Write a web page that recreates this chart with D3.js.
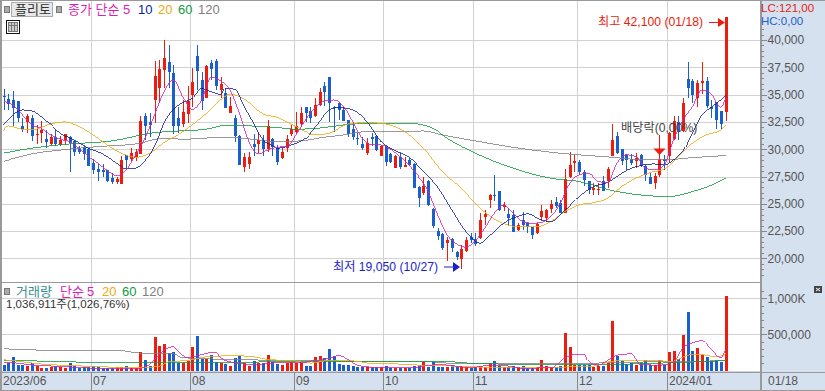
<!DOCTYPE html>
<html>
<head>
<meta charset="utf-8">
<script src="https://d3js.org/d3.v7.min.js"></script>
<style>
  html, body { margin:0; padding:0; background:#fff; overflow:hidden; }
  svg { display:block; font-family:'Liberation Sans','Noto Sans CJK KR',sans-serif; }
  .axis path.domain { display:none; }
  .axis text { fill:#555; font-size:12px; font-family:'Liberation Sans',sans-serif; }
  .axis line { stroke:#888; shape-rendering:crispEdges; }
  .grid path.domain { display:none; }
  .grid line { stroke:#d2d2d2; shape-rendering:crispEdges; }
  .grid text { display:none; }
  .ma { fill:none; stroke-width:0.8; shape-rendering:crispEdges; }
</style>
</head>
<body>
<svg id="chart" width="825" height="391"></svg>
<script>

// candles, one entry per trading day 2023/06 -> 2024/01/18
var open = [34900,34600,34500,34400,32150,32450,32900,31300,31500,30950,
  30500,31150,30350,30800,31150,30750,30100,30200,30050,28700,
  28200,28100,28050,27400,27000,26850,29450,29100,29250,29550,
  33000,32450,34500,35650,37250,38000,36950,32900,32350,33250,
  34950,38500,36350,34700,37900,38100,35400,35150,33350,32850,
  31200,28400,28600,30500,30500,30850,30050,30950,30100,29150,
  30100,31350,31550,32300,33850,33500,33050,34050,35800,36600,
  33850,34250,33600,32700,31850,31050,30500,29650,31100,31200,
  29400,30250,29550,28300,29250,28400,29000,28650,26550,25950,
  27050,24550,22500,22200,21450,21750,20550,19950,20650,22000,
  21800,21850,23750,25350,25800,26200,24750,24100,24000,22600,
  23550,23250,22850,22300,23800,23700,24500,25150,25050,24150,
  27450,28700,28800,27950,27050,26300,26300,27050,27050,29400,
  31200,30050,29500,29100,28950,29450,28500,27500,26900,27650,
  29100,29350,30950,32500,31650,36450,36250,34650,36050,36250,
  33900,34350,33500,33450]
var close = [34800,34150,33800,32900,31850,33000,31250,31350,31750,30650,
  31150,30500,30850,31350,30550,29700,29750,29550,28500,28100,
  27950,27950,27050,27000,27300,29000,29000,29650,29700,32600,
  32150,32200,36700,37350,38350,37050,32150,32150,33400,34400,
  36150,37200,34450,37600,37350,35750,36000,33800,33950,31250,
  28550,29300,29300,30200,30800,30050,32150,30200,28850,29700,
  30900,31850,32150,33350,33350,32900,34050,35250,35250,34200,
  33800,33600,32600,31350,31100,30900,30150,30600,30950,29950,
  30300,28850,28850,29400,28350,28550,28550,26450,25500,26600,
  24850,23000,22050,20950,21700,20950,20100,20850,21650,21700,
  21300,23550,24100,25800,25750,24400,24850,23700,22450,23050,
  23050,22850,22100,23150,24300,24450,25000,24800,24200,27250,
  28550,28950,27950,27200,26300,26450,26400,26200,28200,30850,
  29650,28950,29000,28700,29150,28500,27600,26850,27550,29100,
  28950,31450,32600,31600,34250,35650,34950,36100,36250,33950,
  33650,32700,32300,42100]
var high = [35500,35050,35350,34450,32850,33250,33100,32200,32600,31750,
  31400,31750,31200,31400,31250,30850,30250,30250,30150,29100,
  28600,28650,28100,27800,27500,29350,29500,30100,30000,33000,
  33350,33300,38100,38150,40000,39550,37750,33900,34500,35750,
  37400,39550,37100,37700,38150,38250,36650,35600,34750,33100,
  31300,29650,29700,31400,31600,31300,32700,31000,30400,30100,
  31300,32200,33450,33900,33900,33900,34700,35600,36150,36650,
  33950,34350,33900,32700,32500,31450,31150,31050,31450,31300,
  30400,30300,29650,29500,29650,29300,29150,28700,26600,27450,
  27150,24600,22750,22300,21950,21850,20650,21250,22000,22300,
  22350,24200,24400,25900,27650,26200,25200,24600,24450,23250,
  24250,23300,22900,23250,24900,24500,25350,25650,25350,28200,
  29700,29500,29000,28050,27100,26950,26900,27550,28400,32300,
  31600,30050,29550,29550,29650,29550,28550,27850,27800,31300,
  29500,31600,33050,33000,34650,38000,36400,36350,38000,36600,
  34550,34350,33500,42100]
var low = [33550,33600,32150,32450,31550,31500,30750,30500,30600,30100,
  30250,30300,30300,30400,27950,29400,29550,29000,28450,27750,
  27050,27450,27000,26850,26850,26850,28250,28950,28950,29550,
  30850,31150,32400,34200,35650,35600,31350,31450,32000,32400,
  33850,35400,33600,34650,36350,35400,34650,33750,33300,30700,
  28550,27950,28150,29350,29650,29350,29700,29350,28550,29100,
  29700,31200,31400,32050,32450,32400,32950,34000,34000,32450,
  31600,32700,32550,31150,30800,30400,29950,29500,30250,29800,
  29400,28450,28700,28250,28200,28350,28450,26450,24750,25800,
  24800,22750,21700,20800,19800,20550,19850,19050,20600,21450,
  21150,21800,23050,24600,25300,24300,24300,23000,22450,22550,
  22600,22350,21800,22250,23400,23300,24150,24600,24150,24150,
  27400,27950,27650,26600,25900,25800,25800,26150,26450,29400,
  29550,28550,28100,28550,28250,28400,27050,26850,26350,27500,
  28100,28700,30850,30850,31600,34650,34200,33850,35050,33750,
  32900,31850,31850,32600]
// volume in thousands of shares
var volume = [83,97,181,74,74,69,106,65,37,37,
  46,60,46,37,97,65,32,51,51,60,
  51,37,37,37,42,42,56,32,37,255,
  139,60,458,338,361,241,250,102,102,130,
  319,472,162,162,208,120,97,93,69,167,
  194,97,69,130,97,106,208,120,88,83,
  102,116,102,116,69,69,181,194,167,292,
  204,88,74,79,56,42,46,46,42,42,
  46,60,32,37,32,32,32,69,83,111,
  46,111,46,46,46,83,42,65,42,37,
  42,69,46,97,125,69,46,46,65,42,
  69,37,37,46,139,56,46,42,60,514,
  319,83,74,74,74,42,60,60,106,681,
  194,125,93,102,74,116,144,74,74,139,
  74,250,264,157,486,806,264,306,208,181,
  130,130,116,1037]

// moving averages, day index + value
var ma5Day = [0,2,4,6,8,10,12,14,16,18,20,22,24,26,28,30,32,34,36,38,40,42,44,46,48,50,52,54,56,58,60,62,64,66,68,70,72,74,76,78,80,82,84,86,88,90,92,94,96,98,100,102,104,106,108,110,112,114,116,118,120,122,124,126,128,130,132,134,136,138,140,142,144,146,148,150,152,153]
var ma5 = [34360,34050,33140,32220,31920,31310,30910,30700,30090,29325,28715,28050,27560,28105,29480,31000,33140,35270,36340,34815,33655,34510,36590,36250,35425,33290,30700,29570,29935,30180,30240,31310,32680,33750,34420,34510,33960,32530,31000,30390,30390,29995,29325,28560,27500,26120,23990,22160,21330,21030,21640,22770,24140,24900,24140,23380,23220,23280,23835,25055,26885,27650,27800,27040,26950,28720,29480,29325,28260,28105,28560,30910,32680,33900,35425,35060,33840,34660]
var ma10Day = [0,2,4,6,9,12,15,18,21,24,26,28,30,32,34,36,38,40,42,44,46,47,49,51,53,55,57,58,61,64,67,69,71,74,77,80,83,86,89,92,95,98,101,103,106,109,111,114,116,119,122,125,128,130,132,135,138,140,142,144,146,148,150,152,153]
var ma10 = [32220,33140,33600,33500,32620,31460,30850,30090,29570,28720,28200,28260,28960,30240,32375,33655,34265,34660,35550,35270,35030,35580,35490,33900,32375,30850,30330,30090,30390,31000,32530,33600,33810,33600,32530,30700,29870,29260,27950,26520,24450,22460,21400,22070,23220,23840,24080,23530,23380,24400,25670,26580,26950,27500,28050,28500,28650,28560,29020,29870,31460,33140,33840,34510,34880]
var ma20Day = [0,1,4,6,10,13,16,19,22,25,28,31,34,37,40,43,46,48,51,55,58,62,66,69,73,77,81,85,89,93,97,101,105,109,113,116,119,122,125,128,131,134,137,140,143,146,149,152,153]
var ma20 = [31700,32130,31830,31760,32310,32500,32070,31310,30390,29630,29260,29630,30610,31310,32220,33290,34510,35030,34600,33230,32920,32070,31310,31460,32310,32440,32310,31610,30090,27950,26430,24600,23380,22920,22920,23380,24290,24900,25100,25510,26580,27340,27860,28170,29325,30550,31310,31760,32220]
var ma60Day = [0,6,13,23,32,43,47,58,62,68,72,79,86,91,94,100,107,116,122,129,137,141,146,151,153]
var ma60 = [29660,30090,30450,30760,31520,31830,32190,31980,31830,31980,32220,32370,32370,31920,31000,29630,28410,27340,27040,26210,25730,25660,26120,26890,27340]
var ma120Day = [0,6,13,20,28,34,38,47,52,58,63,68,72,76,82,89,93,100,107,116,122,129,136,140,146,153]
var ma120 = [28900,29570,29965,30240,30480,31000,30910,31100,30940,30700,30760,31100,31300,31580,31610,31670,31300,30760,30240,29720,29480,29260,29020,29020,29230,29420]

var vma5Day = [0,2,6,11,17,28,30,32,33,36,37,39,42,45,46,49,53,58,63,65,69,71,73,75,78,86,89,92,96,99,103,106,110,116,119,121,123,124,126,128,130,133,135,139,142,144,146,148,150,152,153]
var vma5 = [106,106,74,60,37,23,46,153,222,329,269,176,222,255,176,106,83,106,106,130,167,208,153,74,46,37,60,83,60,37,74,69,32,37,176,218,218,130,74,139,213,231,83,74,120,315,384,412,292,176,292]
var vma20Day = [0,4,9,12,19,29,33,35,39,43,49,52,56,58,61,65,69,75,77,80,86,92,103,116,125,129,134,139,141,146,148,150,152,153]
var vma20 = [148,120,83,74,56,37,60,120,139,190,204,199,153,144,139,102,139,130,102,102,79,69,46,46,60,130,139,139,120,222,222,199,199,236]
var vma60Day = [0,4,9,23,35,58,65,75,92,100,107,116,130,134,144,153]
var vma60 = [144,134,130,106,106,120,120,130,130,97,88,83,79,93,111,139]
var vma120Day = [0,8,24,29,33,36,38,42,45,49,58,91,94,100,107,116,125,134,153]
var vma120 = [301,282,282,241,241,231,176,167,157,153,139,120,102,97,102,93,102,116,134]

var priceTicks = [20000,22500,25000,27500,30000,32500,35000,37500,40000]
var priceMinor = d3.range(18500,43001,500)
var volumeTicks = [500,1000]
var volumeMinor = d3.range(100,1101,100)
var monthDay = [19,40,62,81,100,122,141]
var monthLabel = ['07','08','09','10','11','12','2024/01']

var RED = '#ec1c0e', BLUE = '#1a5fcc', MAGENTA = '#dc1eb4', NAVY = '#0a1e9c', ORANGE = '#f0aa0a', GREEN = '#0f9b3c', GREY = '#808080'

var svg = d3.select('#chart')
var x = d3.scaleLinear().domain([0,153]).range([3.5,725.5])
var y = d3.scaleLinear().domain([20000,40000]).range([258.4,40])
var yv = d3.scaleLinear().domain([0,1000]).range([370.5,298.3])

var plotLeft = 1, plotRight = 760, priceBottom = 282, volBottom = 372

// side panel + date strip
svg.append('rect').attr('x',plotRight).attr('y',0).attr('width',65).attr('height',391).attr('fill','#d6e1ef')
svg.append('rect').attr('x',0).attr('y',volBottom).attr('width',825).attr('height',19).attr('fill','#d6e1ef')

// grid
function hgrid(scale,ticks){
  svg.append('g').attr('class','grid').attr('transform','translate('+plotLeft+',0)')
    .call(d3.axisRight(scale).tickValues(ticks).tickSize(plotRight-plotLeft).tickFormat(''))
}
hgrid(y,priceTicks)
hgrid(yv,[0,500,1000])

var monthX = d3.scaleLinear().domain(x.domain()).range(x.range())
svg.append('g').attr('class','grid')
  .call(d3.axisBottom(monthX).tickValues(monthDay.map(d=>d-0.5)).tickSize(volBottom).tickFormat(''))

// volume bars
svg.append('g').selectAll('rect').data(volume).enter().append('rect')
  .attr('x',(d,i)=>Math.round(x(i))-1)
  .attr('width',3)
  .attr('y',d=>Math.round(yv(d)))
  .attr('height',d=>371-Math.round(yv(d)))
  .attr('fill',(d,i)=>close[i]>=open[i]?RED:BLUE)
  .attr('shape-rendering','crispEdges')

// candles
var candle = svg.append('g').attr('shape-rendering','crispEdges')
candle.selectAll('line').data(high).enter().append('line')
  .attr('x1',(d,i)=>Math.round(x(i))+0.5).attr('x2',(d,i)=>Math.round(x(i))+0.5)
  .attr('y1',d=>y(d))
  .attr('y2',(d,i)=>y(low[i]))
  .attr('stroke',(d,i)=>close[i]>=open[i]?RED:BLUE)
candle.selectAll('rect').data(high).enter().append('rect')
  .attr('x',(d,i)=>Math.round(x(i))-1)
  .attr('width',3)
  .attr('y',(d,i)=>Math.round(y(Math.max(open[i],close[i]))))
  .attr('height',(d,i)=>Math.max(1,Math.round(y(Math.min(open[i],close[i])))-Math.round(y(Math.max(open[i],close[i])))))
  .attr('fill',(d,i)=>close[i]>=open[i]?RED:BLUE)

// moving average lines
function drawMa(days,vals,color,scale){
  var line = d3.line().x((d,i)=>x(days[i])).y(d=>scale(d)).curve(d3.curveMonotoneX)
  svg.append('path').attr('class','ma').attr('d',line(vals)).attr('stroke',color)
}
drawMa(ma120Day,ma120,GREY,y)
drawMa(ma60Day,ma60,GREEN,y)
drawMa(ma20Day,ma20,ORANGE,y)
drawMa(ma10Day,ma10,NAVY,y)
drawMa(ma5Day,ma5,MAGENTA,y)
drawMa(vma120Day,vma120,GREY,yv)
drawMa(vma60Day,vma60,GREEN,yv)
drawMa(vma20Day,vma20,ORANGE,yv)
drawMa(vma5Day,vma5,MAGENTA,yv)

// panel borders
function border(x1,y1,x2,y2,w){
  svg.append('line').attr('x1',x1).attr('y1',y1).attr('x2',x2).attr('y2',y2)
    .attr('stroke','#999').attr('stroke-width',w||1).attr('shape-rendering','crispEdges')
}
border(0,0.5,825,0.5)
border(0.5,0,0.5,391,2)
border(0,priceBottom+0.5,760,priceBottom+0.5)
border(0,volBottom+0.5,825,volBottom+0.5)
border(0,390.5,825,390.5)
border(plotRight+0.5,0,plotRight+0.5,391,2)

// right axes
svg.append('g').attr('class','axis').attr('transform','translate(760.5,0)')
  .call(d3.axisRight(y).tickValues(priceMinor.filter(d=>y(d)>25&&y(d)<280)).tickSize(3).tickFormat(''))
svg.append('g').attr('class','axis').attr('transform','translate(760.5,0)')
  .call(d3.axisRight(y).tickValues(priceTicks).tickSize(6).tickPadding(1).tickFormat(d3.format(',')))
svg.append('g').attr('class','axis').attr('transform','translate(760.5,0)')
  .call(d3.axisRight(yv).tickValues(volumeMinor).tickSize(3).tickFormat(''))
svg.append('g').attr('class','axis').attr('transform','translate(760.5,0)')
  .call(d3.axisRight(yv).tickValues(volumeTicks).tickSize(6).tickPadding(1).tickFormat(d=>d==1000?'1,000K':'500,000'))

// month labels + dark separators in the date strip
var dateAxis = svg.append('g').attr('class','axis').attr('transform','translate(0,'+(volBottom)+')')
  .call(d3.axisBottom(monthX).tickValues(monthDay.map(d=>d-0.5)).tickSize(18).tickFormat(''))
dateAxis.selectAll('line').attr('stroke','#999')
function label(px,py,str,color,size,anchor){
  return svg.append('text').attr('x',px).attr('y',py).attr('fill',color).attr('font-size',size||12)
    .attr('text-anchor',anchor||'start').text(str)
}
label(3,385,'2023/06','#555')
monthDay.forEach(function(d,i){ label(Math.round(x(d-0.5))+2,385,monthLabel[i],'#555') })
label(768,385,'01/18','#555')

// top legend
function square(px,py){
  svg.append('rect').attr('x',px+0.5).attr('y',py+0.5).attr('width',5).attr('height',6)
    .attr('fill','#aaa').attr('stroke','#777').attr('shape-rendering','crispEdges')
}
square(4,6)
svg.append('rect').attr('x',11.5).attr('y',2.5).attr('width',41).attr('height',14)
  .attr('fill','#e8e8e8').attr('stroke','#aaa').attr('shape-rendering','crispEdges')
label(15,14,'플리토','#333',13)
square(56,6)
label(68,14,'종가 단순 5',MAGENTA,13)
label(138,14,'10',NAVY,13)
label(158,14,'20',ORANGE,13)
label(178,14,'60',GREEN,13)
label(198,14,'120',GREY,13)

// table icon
var ic = svg.append('g').attr('shape-rendering','crispEdges')
ic.append('rect').attr('x',6.5).attr('y',20.5).attr('width',13).attr('height',13).attr('fill','#fff').attr('stroke','#111')
ic.append('rect').attr('x',8.5).attr('y',22.5).attr('width',9).attr('height',9).attr('fill','#ccc').attr('stroke','#777')
ic.append('line').attr('x1',11.5).attr('x2',11.5).attr('y1',23).attr('y2',31).attr('stroke','#777')
ic.append('line').attr('x1',14.5).attr('x2',14.5).attr('y1',23).attr('y2',31).attr('stroke','#777')
ic.append('line').attr('x1',9).attr('x2',17).attr('y1',25.5).attr('y2',25.5).attr('stroke','#777')

// volume legend
square(4,288)
label(16,296,'거래량','#35908f',13)
label(60,296,'단순',MAGENTA,13)
label(87,296,'5',MAGENTA,13)
label(102,296,'20',ORANGE,13)
label(122,296,'60',GREEN,13)
label(142,296,'120',GREY,13)
label(6,308,'1,036,911주(1,026,76%)','#333',11.5)

// high / low / ex-dividend marks
label(761,12,'LC:121,00',RED,11.5)
label(761,25,'HC:0,00',BLUE,11.5)
label(598,26,'최고 42,100 (01/18)',RED,12.2)
label(333,271,'최저 19,050 (10/27)','#1a1ecc',12.2)
label(621,132,'배당락(0,00%)','#444',12.2)

var marks = svg.append('g')
marks.append('line').attr('x1',709).attr('x2',720).attr('y1',22.5).attr('y2',22.5).attr('stroke',RED)
marks.append('path').attr('d',d3.line()([[718,18],[725,22.5],[718,27]])).attr('fill',RED)
marks.append('line').attr('x1',444).attr('x2',455).attr('y1',267).attr('y2',267).attr('stroke','#1a1ecc')
marks.append('path').attr('d',d3.line()([[453,262],[460,267],[453,272]])).attr('fill','#1a1ecc')
marks.append('line').attr('x1',659.5).attr('x2',659.5).attr('y1',135).attr('y2',150).attr('stroke',RED)
marks.append('path').attr('d',d3.line()([[653.5,148.5],[665.5,148.5],[659.5,155]])).attr('fill',RED)

// close button in the volume pane
svg.append('rect').attr('x',814).attr('y',286).attr('width',8).attr('height',7).attr('fill','#444').attr('shape-rendering','crispEdges')
svg.append('path').attr('d','M816,288L820,291M820,288L816,291').attr('stroke','#fff').attr('fill','none')

</script>
</body>
</html>
